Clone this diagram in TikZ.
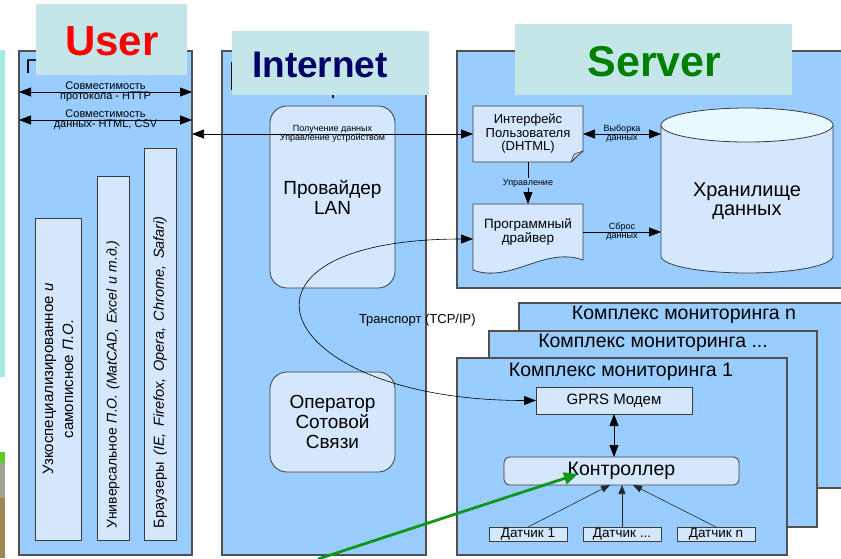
\documentclass[tikz,border=0pt]{standalone}
\usepackage{fontspec}
\setmainfont{Liberation Sans}
\usetikzlibrary{arrows.meta,calc}

\definecolor{panelc}{HTML}{99CCFF}
\definecolor{panelline}{HTML}{505050}
\definecolor{boxc}{HTML}{D4E7FD}
\definecolor{boxline}{HTML}{3C3C3C}
\definecolor{labelc}{HTML}{C4E6E8}
\definecolor{cyltop}{HTML}{E8F9FF}
\definecolor{foldc}{HTML}{BFC4CC}
\definecolor{usered}{HTML}{FF0000}
\definecolor{netnavy}{HTML}{000066}
\definecolor{srvgreen}{HTML}{008000}
\definecolor{arrowgreen}{HTML}{11961A}
\definecolor{edgecyan}{HTML}{A8EAE6}
\definecolor{edgegreen}{HTML}{5CCB2A}
\definecolor{edgegrey}{HTML}{9FA592}
\definecolor{edgebrown}{HTML}{A08452}

\tikzset{
  every node/.style={inner sep=0pt, outer sep=0pt},
  panel/.style={draw=panelline, fill=panelc, line width=1.1pt, anchor=north west},
  lbl/.style={fill=labelc, anchor=north west},
  box/.style={draw=boxline, fill=boxc, line width=0.8pt},
  rbox/.style={box, rounded corners=17pt, align=center, font=\fontsize{19}{20}\selectfont},
  vbox/.style={box, rotate=90},
  ttl/.style={font=\fontsize{19.5}{20}\selectfont},
  smalltxt/.style={align=center, font=\fontsize{11}{10}\selectfont},
  tinytxt/.style={align=center, font=\fontsize{9}{9}\selectfont},
  conn/.style={line width=0.75pt, draw=black},
  dbl/.style={conn, {Triangle[length=12pt,width=9pt]}-{Triangle[length=12pt,width=9pt]}},
  sgl/.style={conn, -{Triangle[length=12pt,width=9pt]}},
  thin/.style={line width=0.6pt, draw=black!85, -{Triangle[length=9pt,width=7pt]}},
  greenarrow/.style={draw=arrowgreen, line width=2.8pt, -{Triangle[length=14pt,width=12pt]}},
  sensor/.style={box, minimum width=78, minimum height=14, font=\fontsize{13.5}{13.5}\selectfont}
}

\begin{document}
\begin{tikzpicture}[x=1pt,y=-1pt]
\useasboundingbox (0,0) rectangle (841,558);
\clip (0,0) rectangle (841,558);
\fill[white] (0,0) rectangle (841,558);

% strips along the left edge
\fill[edgecyan] (0,50) rectangle (5,377);
\fill[edgegreen] (0,452) rectangle (5,463);
\fill[edgegrey] (0,463) rectangle (5,498);
\fill[edgebrown] (0,498) rectangle (5,558);

% ---------- main panels ----------
\node[panel, minimum width=173, minimum height=504] (userp) at (19,51) {};
\node[panel, minimum width=204, minimum height=504] (netp) at (222,51) {};
\node[panel, minimum width=393, minimum height=237] (srvp) at (457,51) {};

% monitoring complexes, stacked back to front
\node[panel, minimum width=330, minimum height=185] (cmpn) at (519,303) {};
\node[ttl] (cmpnt) at (684,315) {Комплекс мониторинга n};
\node[panel, minimum width=328, minimum height=196] (cmpm) at (489,331) {};
\node[ttl] (cmpmt) at (653,343) {Комплекс мониторинга ...};
\node[panel, minimum width=330, minimum height=197] (cmp1) at (457,358) {};
\node[ttl] (cmp1t) at (621,372) {Комплекс мониторинга 1};

% remains of panel titles under the caption boxes
\node[anchor=base west, font=\fontsize{20}{20}\selectfont] (usert) at (25.5,73) {П};
\fill[black!90] (231,62) rectangle (233.6,90);
\fill[black!90] (331.6,95) rectangle (334.4,97.6);

% ---------- caption boxes ----------
\node[lbl, minimum width=151, minimum height=71] (userlbl) at (36,4) {};
\node[font=\fontsize{42}{42}\selectfont\bfseries, text=usered] (usercap) at (112,41) {User};
\node[lbl, minimum width=197, minimum height=64] (netlbl) at (232,31) {};
\node[font=\fontsize{37}{37}\selectfont\bfseries, text=netnavy] (netcap) at (320,65) {Internet};
\node[lbl, minimum width=277, minimum height=71] (srvlbl) at (515,24) {};
\node[font=\fontsize{43}{43}\selectfont\bfseries, text=srvgreen] (srvcap) at (654.5,61.5) {Server};

% ---------- user side ----------
\coordinate (h1l) at (19,92);  \coordinate (h1r) at (192,92);
\coordinate (h2l) at (19,120); \coordinate (h2r) at (192,120);
\draw[dbl] (h1l) -- (h1r) node[midway, smalltxt] {Совместимость\\протокола - HTTP};
\draw[dbl] (h2l) -- (h2r) node[midway, smalltxt] {Совместимость\\данных- HTML, CSV};

\node[vbox, minimum width=322, minimum height=46, align=center, font=\fontsize{15}{20}\selectfont] (soft1) at (58,379)
  {Узкоспециализированное \textit{и}\\самописное \textit{П.О.}};
\node[vbox, minimum width=364, minimum height=32, text width=340, align=left, font=\fontsize{14}{16}\selectfont] (soft2) at (113,358)
  {Универсальное \textit{П.О. (MatCAD, Excel и т.д.)}};
\node[vbox, minimum width=392, minimum height=32, text width=368, align=left, font=\fontsize{14.5}{16}\selectfont] (soft3) at (160,344)
  {\spaceskip=6.5pt plus 1pt Браузеры \textit{(IE, Firefox, Opera, Chrome, Safari)}};

% ---------- internet ----------
\node[rbox, minimum width=125, minimum height=182] (lan) at (332.5,197) {Провайдер\\LAN};
\node[rbox, minimum width=125, minimum height=100] (gsm) at (332.5,422) {Оператор\\Сотовой\\Связи};

% ---------- server ----------
% user interface: sheet with a folded corner
\filldraw[box] (473,106) -- (583,106) -- (583,151) -- (571,162) -- (473,162) -- cycle;
\filldraw[draw=boxline, fill=foldc, line width=0.6pt] (583,151) -- (574,154) -- (571,162) -- cycle;
\node[minimum width=110, minimum height=56, align=center, font=\fontsize{13}{13.5}\selectfont] (iface) at (528,134)
  {Интерфейс\\Пользователя\\(DHTML)};

% driver: document with a wavy lower edge
\filldraw[box] (473,204) -- (583,204) -- (583,260) .. controls (545,246) and (510,284) .. (473,270) -- cycle;
\node[minimum width=110, minimum height=56, align=center, font=\fontsize{13.5}{13.5}\selectfont] (drv) at (528,232)
  {Программный\\драйвер};

% data store cylinder
\filldraw[box] (661,125) -- (661,256) .. controls (661,265.4) and (699.5,273) .. (747,273)
  .. controls (794.5,273) and (833,265.4) .. (833,256) -- (833,125);
\filldraw[draw=boxline, fill=cyltop, line width=0.8pt] (747,125) ellipse [x radius=86, y radius=17];
\node[minimum width=172, align=center, font=\fontsize{20}{19}\selectfont] (store) at (747,201) {Хранилище\\данных};

\draw[dbl] (iface.east) -- (iface.east -| store.west) node[midway, tinytxt] {Выборка\\данных};
\draw[sgl] (iface.south) -- (drv.north) node[midway, tinytxt, fill=panelc, inner sep=0.8pt] {Управление};
\draw[sgl] (drv.east) -- (drv.east -| store.west) node[midway, tinytxt] {Сброс\\данных};

% user side to server link through the provider
\draw[dbl] (userp.east |- iface.west) -- (iface.west)
  node[midway, tinytxt] {Получение данных\\Управление устройством};

% ---------- monitoring complex 1 ----------
\node[box, minimum width=156, minimum height=27, font=\fontsize{15}{15}\selectfont] (gprs) at (614,400.5) {GPRS Модем};
\node[box, rounded corners=6pt, minimum width=235, minimum height=28, font=\fontsize{19.5}{19}\selectfont] (ctrl) at (621.5,471) {Контроллер};
\draw[dbl] (gprs.south) -- (gprs.south |- ctrl.north);

\node[sensor] (s1) at (528,534) {Датчик 1};
\node[sensor] (s2) at (622,534) {Датчик ...};
\node[sensor] (s3) at (716,534) {Датчик n};
\coordinate (c1) at ($(ctrl.south)+(-11.5,0)$);
\coordinate (c2) at ($(ctrl.south)+(0.5,0)$);
\coordinate (c3) at ($(ctrl.south)+(11.5,0)$);
\draw[thin] (s1.north) -- (c1);
\draw[thin] (s2.north) -- (c2);
\draw[thin] (s3.north) -- (c3);

% transport over TCP/IP between driver and modem
\coordinate (drvin) at ($(drv.west)+(0,7)$);
\draw[dbl, line width=0.6pt] (drvin) .. controls +(-266,0) and +(-266,0) .. (gprs.west);
\node[anchor=west, font=\fontsize{13}{13}\selectfont] (tcp) at (359,320) {Транспорт (TCP/IP)};

% pointer to the controller
\coordinate (gstart) at (318,559);
\coordinate (gtip) at (578,474);
\draw[greenarrow] (gstart) -- (gtip);
\end{tikzpicture}
\end{document}
